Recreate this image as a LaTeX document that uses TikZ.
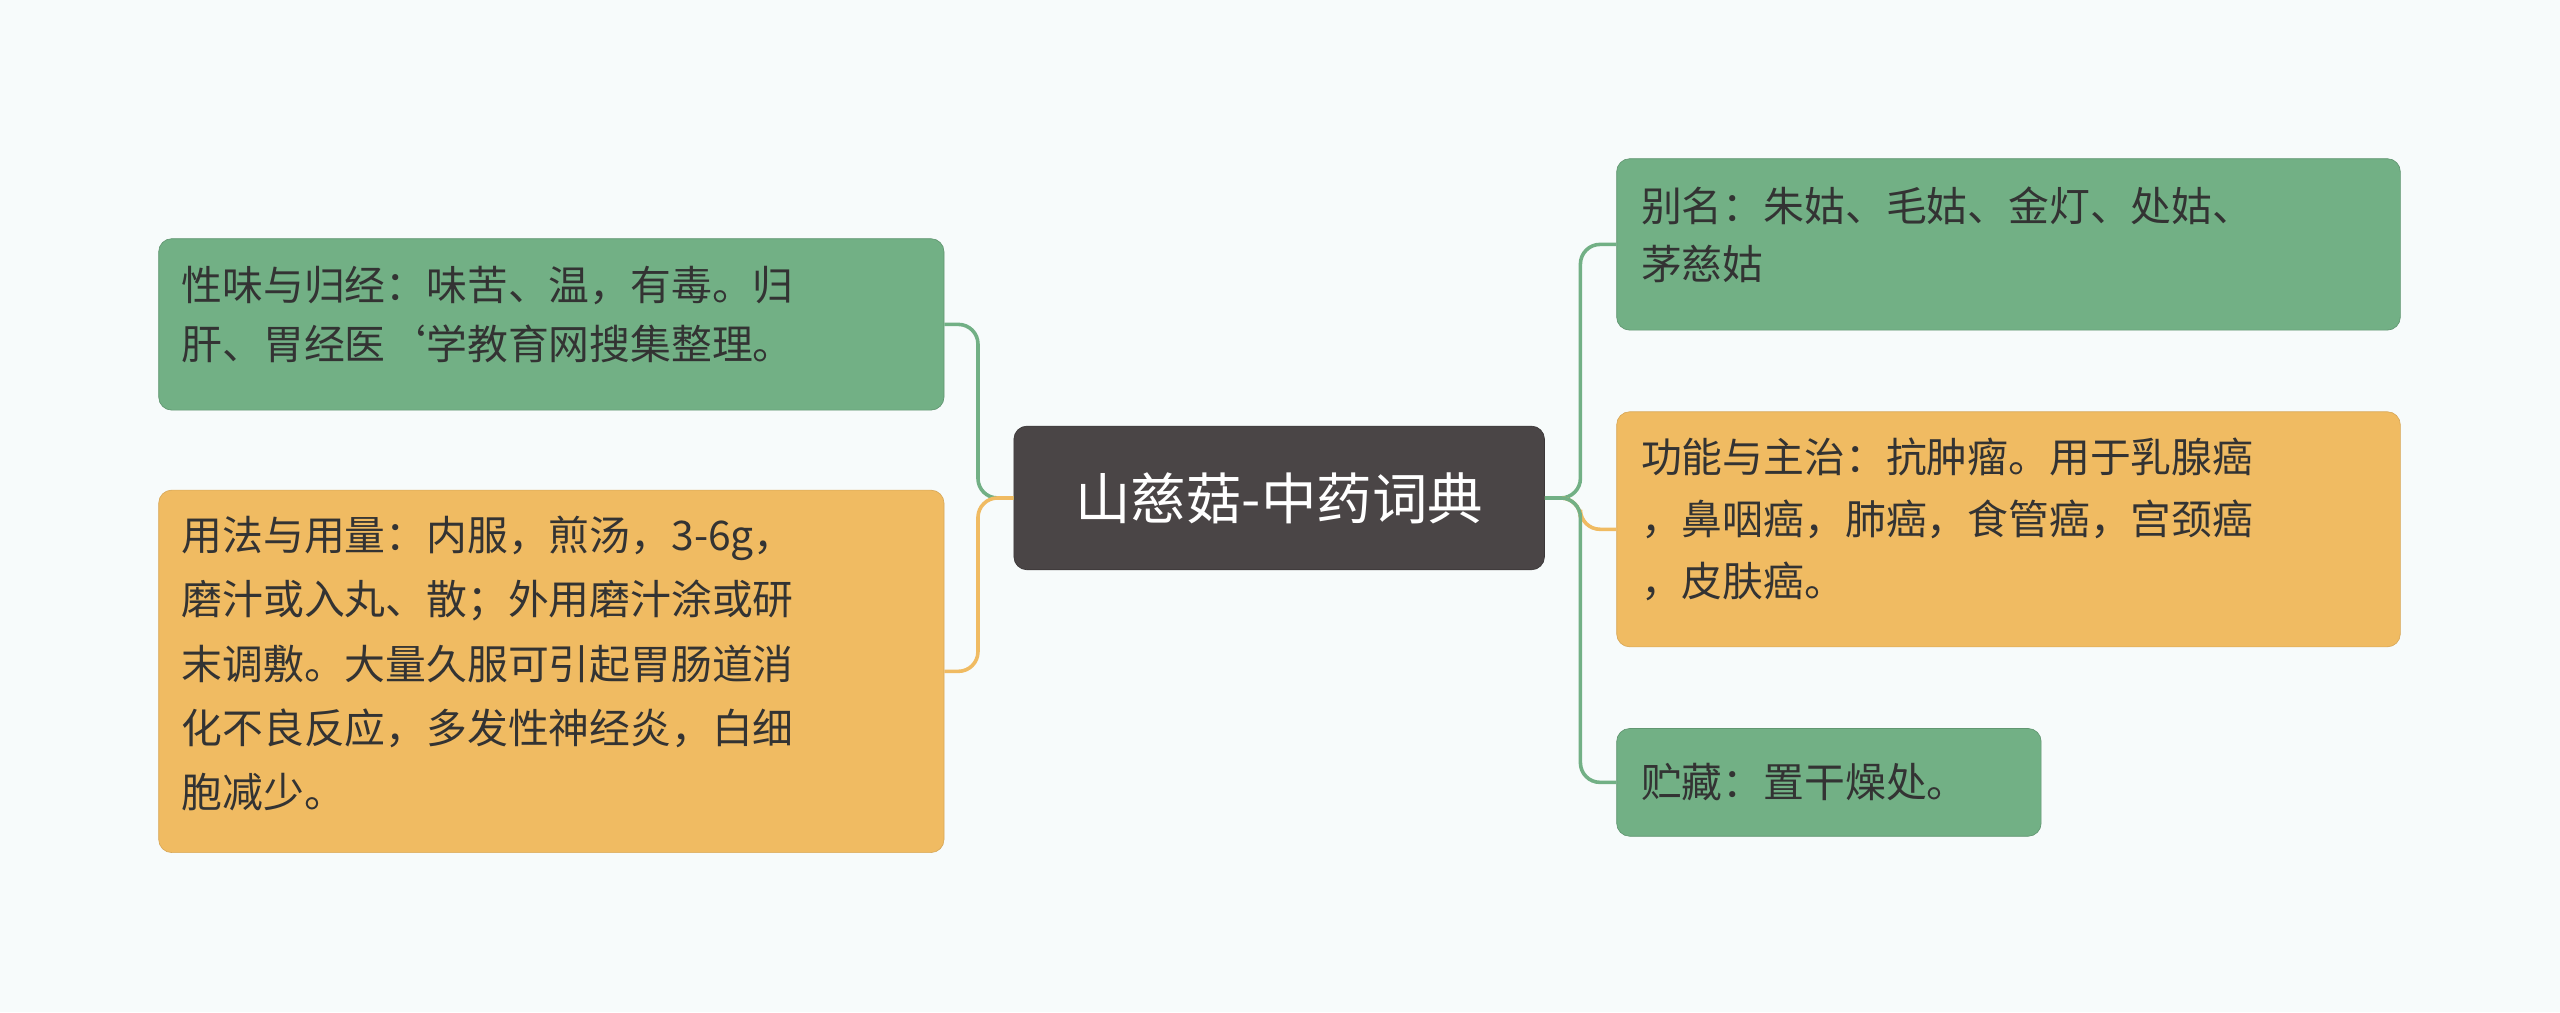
\documentclass[tikz,border=0pt]{standalone}
\usepackage{fontspec}
\setmainfont{Noto Sans CJK SC}
\begin{document}
\begin{tikzpicture}[x=1pt,y=-1pt,
 box/.style={rounded corners=8pt,inner sep=0pt,anchor=north west,font=\fontsize{25}{38}\selectfont,text=black!80,align=left},
 gbox/.style={box,fill=gfill,draw=gfill!85!black},
 obox/.style={box,fill=ofill,draw=ofill!90!black},
 gl/.style={draw=gline,line width=2.2pt,rounded corners=12pt},
 ol/.style={draw=oline,line width=2.2pt,rounded corners=12pt}]
\definecolor{gfill}{HTML}{72B085}
\definecolor{ofill}{HTML}{F0BB62}
\definecolor{gline}{HTML}{72B085}
\definecolor{oline}{HTML}{F0BB62}
\definecolor{cfill}{HTML}{4A4546}
\definecolor{bg}{HTML}{F7FBFB}
\fill[bg] (0,0) rectangle (1568,620);
\useasboundingbox (0,0) rectangle (1568,620);
\node[box,fill=cfill,draw=cfill!80!black,minimum width=325pt,minimum height=88pt,anchor=center,align=center,text=white,font=\fontsize{34}{40}\selectfont] (c) at (783.5,305) {山慈菇-中药词典};
\node[gbox,minimum width=481pt,minimum height=105pt] (l1) at (97,146) {};
\node[anchor=north west,font=\fontsize{25}{36}\selectfont,text=black!80,align=left,inner sep=0pt] at (111,163) {性味与归经：味苦、温，有毒。归\\肝、胃经医`学教育网搜集整理。};
\node[obox,minimum width=481pt,minimum height=222pt] (l2) at (97,300) {};
\node[anchor=north west,font=\fontsize{25}{39.3}\selectfont,text=black!80,align=left,inner sep=0pt] at (111,316) {用法与用量：内服，煎汤，3-6g，\\磨汁或入丸、散；外用磨汁涂或研\\末调敷。大量久服可引起胃肠道消\\化不良反应，多发性神经炎，白细\\胞减少。};
\node[gbox,minimum width=480pt,minimum height=105pt] (r1) at (990,97) {};
\node[anchor=north west,font=\fontsize{25}{36}\selectfont,text=black!80,align=left,inner sep=0pt] at (1005,114) {别名：朱姑、毛姑、金灯、处姑、\\茅慈姑};
\node[obox,minimum width=480pt,minimum height=144pt] (r2) at (990,252) {};
\node[anchor=north west,font=\fontsize{25}{38}\selectfont,text=black!80,align=left,inner sep=0pt] at (1005,268) {功能与主治：抗肿瘤。用于乳腺癌\\，鼻咽癌，肺癌，食管癌，宫颈癌\\，皮肤癌。};
\node[gbox,minimum width=260pt,minimum height=66pt] (r3) at (990,446) {};
\node[anchor=west,font=\fontsize{25}{38}\selectfont,text=black!80,inner sep=0pt] at (1005,479) {贮藏：置干燥处。};
\coordinate (lj) at (599,305);
\coordinate (rj) at (968,305);
\draw[gl] (c.west) -- (lj) |- (l1.east);
\draw[ol] (c.west) -- (lj) |- (l2.east);
\draw[gl] (c.east) -- (rj) |- (r1.west);
\draw[ol] (c.east) -- (rj) |- (r2.west);
\draw[gl] (c.east) -- (rj) |- (r3.west);
\end{tikzpicture}
\end{document}
